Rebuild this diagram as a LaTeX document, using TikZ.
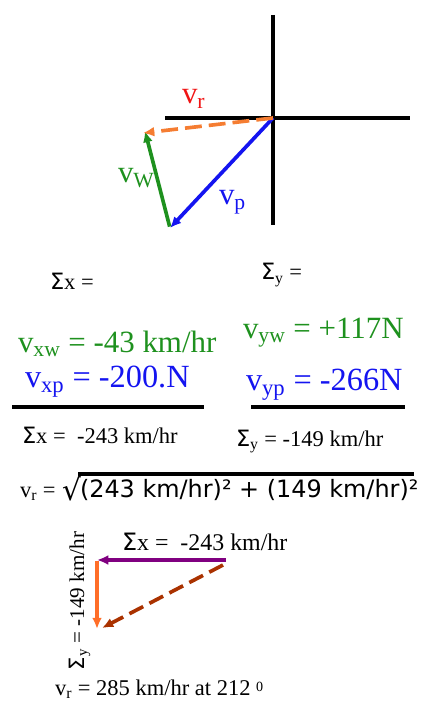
\documentclass[tikz,border=0pt]{standalone}
\usepackage{fontspec}
\setmainfont{Liberation Serif}
\newfontfamily\sqfont{DejaVu Sans}
\usetikzlibrary{arrows.meta}
\definecolor{vgreen}{RGB}{30,145,30}
\definecolor{vblue}{RGB}{20,20,240}
\definecolor{vred}{RGB}{240,20,20}
\definecolor{vrorange}{RGB}{245,125,50}
\definecolor{sumorange}{RGB}{255,110,40}
\definecolor{sumpurple}{RGB}{128,0,128}
\definecolor{sumbrown}{RGB}{170,50,0}
\newcommand{\sig}{{\sqfont Σ}}

\begin{document}
\begin{tikzpicture}[x=0.025cm, y=-0.025cm,
  every node/.style={inner sep=0pt, outer sep=0pt, anchor=base west},
  lbl/.style={font=\fontsize{22}{24}\selectfont},
  big/.style={font=\fontsize{22}{24}\selectfont},
  bigb/.style={font=\fontsize{23}{25}\selectfont},
  small/.style={font=\fontsize{16}{18}\selectfont},
  axis/.style={line width=2.8pt},
  vec/.style={line width=2.6pt, -{Latex[length=8pt, width=7pt]}},
  bar/.style={line width=2.8pt},
]
  \useasboundingbox (0,0) rectangle (424,707);

  % Axes
  \coordinate (orig) at (273,118);
  \coordinate (xl) at (165,118);
  \coordinate (xr) at (410,118);
  \coordinate (yt) at (273,15);
  \coordinate (yb) at (273,225);
  \draw[axis] (xl) -- (xr);
  \draw[axis] (yt) -- (yb);

  % Vector triangle
  \coordinate (rtip) at (143,133);
  \coordinate (ptip) at (170,228);
  \coordinate (wtip) at (145,131);
  \draw[vec, vblue] (orig) -- (ptip);
  \draw[vec, vgreen, shorten <=1pt] (ptip) -- (wtip);
  \draw[vec, vrorange, dash pattern=on 12pt off 5pt] (orig) -- (rtip);
  \node[lbl, text=vred] (vr) at (182,104) {v\textsubscript{r}};
  \node[lbl, text=vgreen] (vw) at (118,183) {v\textsubscript{W}};
  \node[lbl, text=vblue] (vp) at (219,205) {v\textsubscript{p}};

  % Component sums
  \node[small] (sx) at (50,290) {\sig x =};
  \node[small] (sy) at (261,280) {\sig\textsubscript{y} =};
  \node[big, text=vgreen] (vxw) at (18,352) {v\textsubscript{xw} = -43 km/hr};
  \node[bigb, text=vblue] (vxp) at (25,387) {v\textsubscript{xp} = -200.N};
  \node[big, text=vgreen] (vyw) at (243,338) {v\textsubscript{yw} = +117N};
  \node[bigb, text=vblue] (vyp) at (246,390) {v\textsubscript{yp} = -266N};

  \coordinate (b1l) at (12,407);
  \coordinate (b1r) at (204,407);
  \coordinate (b2l) at (251,407);
  \coordinate (b2r) at (405,407);
  \draw[bar] (b1l) -- (b1r);
  \draw[bar] (b2l) -- (b2r);

  \node[small] (sxres) at (22,443) {\sig x =\ \ -243 km/hr};
  \node[small] (syres) at (236,446) {\sig\textsubscript{y} = -149 km/hr};

  % Resultant magnitude
  \node[small] (vrmag) at (20,497) {v\textsubscript{r} =};
  \node[font=\sqfont\fontsize{21}{23}\selectfont] (radic) at (62,500) {√};
  \node[font=\sqfont\fontsize{17}{19}\selectfont] (root) at (80,497)
    {(243 km/hr)² + (149 km/hr)²};
  \coordinate (rootl) at (78,474);
  \coordinate (rootr) at (414,474);
  \draw[bar] (rootl) -- (rootr);

  % Sum triangle
  \coordinate (sxtail) at (226,560);
  \coordinate (corner) at (97,560);
  \coordinate (sytip) at (97,629);
  \coordinate (rtail) at (223,565);
  \coordinate (rhead) at (102,628);
  \draw[vec, sumpurple] (sxtail) -- (corner);
  \draw[vec, sumorange, shorten <=1pt] (corner) -- (sytip);
  \draw[vec, sumbrown, dash pattern=on 11pt off 5pt] (rtail) -- (rhead);
  \node[font=\fontsize{17}{19}\selectfont] (sxlbl) at (122,550) {\sig x =\ \ -243 km/hr};
  \node[font=\fontsize{15}{17}\selectfont, rotate=90] (sylbl) at (84,670)
    {\sig\textsubscript{y} = -149 km/hr};

  \node[small] (vrres) at (55,695)
    {v\textsubscript{r} = 285 km/hr at 212 \raisebox{0.35ex}{\fontsize{10}{10}\selectfont 0}};
\end{tikzpicture}
\end{document}
